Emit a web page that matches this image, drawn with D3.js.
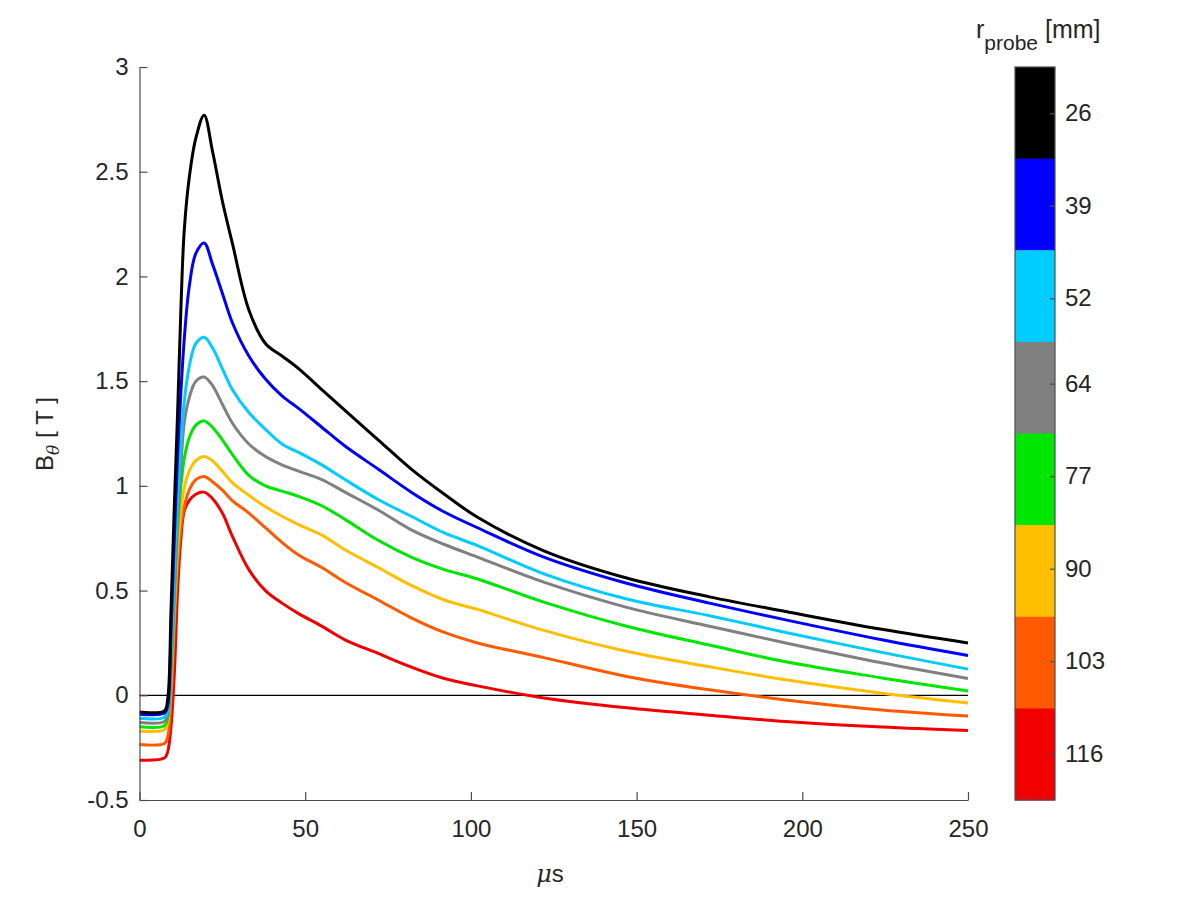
<!DOCTYPE html>
<html>
<head>
<meta charset="utf-8">
<script src="https://cdn.jsdelivr.net/npm/d3@7"></script>
<style>
body { margin: 0; background: #fff; }
text { font-family: "Liberation Sans", Arial, sans-serif; fill: #262626; }
</style>
</head>
<body>
<div id="chart"></div>
<script>
// time axis (microseconds) shared by every probe trace
var times = [0, 7.5, 8.5, 9.5, 10.5, 11.5, 12.5, 13.5, 15, 17, 19.5, 22, 25, 28, 33, 38, 43, 48, 55, 62, 72, 82, 92, 102, 122, 147, 172, 195, 224, 250];

// B_theta [T] per probe radius
var b26  = [-0.08, -0.075, -0.02, 0.4, 0.9, 1.35, 1.85, 2.22, 2.47, 2.66, 2.77, 2.6, 2.36, 2.16, 1.84, 1.68, 1.62, 1.56, 1.46, 1.36, 1.22, 1.08, 0.96, 0.85, 0.69, 0.56, 0.47, 0.40, 0.315, 0.25];
var b39  = [-0.09, -0.085, -0.05, 0.3, 0.75, 1.15, 1.45, 1.7, 1.95, 2.11, 2.16, 2.06, 1.92, 1.78, 1.62, 1.51, 1.43, 1.37, 1.28, 1.19, 1.08, 0.97, 0.875, 0.80, 0.66, 0.535, 0.44, 0.36, 0.265, 0.19];
var b52  = [-0.11, -0.105, -0.07, 0.2, 0.6, 0.95, 1.2, 1.4, 1.57, 1.68, 1.71, 1.66, 1.56, 1.46, 1.35, 1.27, 1.20, 1.16, 1.10, 1.03, 0.935, 0.855, 0.775, 0.715, 0.58, 0.46, 0.38, 0.30, 0.205, 0.125];
var b64  = [-0.13, -0.125, -0.09, 0.15, 0.5, 0.85, 1.1, 1.3, 1.42, 1.5, 1.52, 1.48, 1.39, 1.3, 1.2, 1.14, 1.10, 1.07, 1.03, 0.97, 0.885, 0.79, 0.72, 0.66, 0.54, 0.42, 0.33, 0.25, 0.155, 0.08];
var b77  = [-0.15, -0.145, -0.11, 0.1, 0.45, 0.8, 1.0, 1.13, 1.23, 1.29, 1.31, 1.28, 1.22, 1.15, 1.05, 1.0, 0.975, 0.95, 0.905, 0.84, 0.74, 0.66, 0.60, 0.555, 0.445, 0.33, 0.24, 0.16, 0.083, 0.02];
var b90  = [-0.17, -0.165, -0.13, 0.05, 0.4, 0.7, 0.88, 0.99, 1.07, 1.12, 1.14, 1.12, 1.07, 1.015, 0.955, 0.90, 0.855, 0.815, 0.765, 0.695, 0.61, 0.525, 0.455, 0.41, 0.31, 0.21, 0.136, 0.074, 0.01, -0.037];
var b103 = [-0.235, -0.23, -0.2, -0.02, 0.33, 0.62, 0.8, 0.9, 0.98, 1.03, 1.045, 1.02, 0.98, 0.93, 0.87, 0.80, 0.73, 0.67, 0.61, 0.54, 0.455, 0.37, 0.30, 0.25, 0.18, 0.09, 0.026, -0.022, -0.07, -0.099];
var b116 = [-0.31, -0.30, -0.27, -0.15, 0.1, 0.5, 0.75, 0.88, 0.93, 0.96, 0.97, 0.94, 0.87, 0.76, 0.60, 0.50, 0.44, 0.39, 0.33, 0.265, 0.20, 0.135, 0.08, 0.045, -0.013, -0.06, -0.095, -0.125, -0.152, -0.168];

var radii = [26, 39, 52, 64, 77, 90, 103, 116];
var colors = ["#000000", "#0000ff", "#00ccff", "#808080", "#00e600", "#ffbf00", "#ff5a00", "#f20000"];
var xTicks = [0, 50, 100, 150, 200, 250];
var yTicks = [-0.5, 0, 0.5, 1, 1.5, 2, 2.5, 3];

var traces = [b26, b39, b52, b64, b77, b90, b103, b116];

function drawChart() {
    var width = 1200,
        height = 900,
        pLeft = 139.5, pRight = 968, pTop = 67, pBottom = 800;

    var svg = d3.select("#chart")
        .append("svg")
        .attr("width", width)
        .attr("height", height);

    svg.append("rect")
        .attr("width", width)
        .attr("height", height)
        .attr("fill", "#fff");

    var x = d3.scaleLinear().domain([0, 250]).range([pLeft, pRight]);
    var y = d3.scaleLinear().domain([-0.5, 3]).range([pBottom, pTop]);

    var line = d3.line()
        .x(function (d) { return x(d[0]); })
        .y(function (d) { return y(d[1]); })
        .curve(d3.curveCatmullRom.alpha(0.5));

    // zero reference line
    svg.append("line")
        .attr("x1", x(0)).attr("x2", x(250))
        .attr("y1", y(0)).attr("y2", y(0))
        .attr("stroke", "#000")
        .attr("stroke-width", 1.3);

    // traces, outermost probe first so black ends on top
    var order = d3.range(traces.length).reverse();
    svg.append("g")
        .attr("class", "linegroup")
        .selectAll("path")
        .data(order)
        .enter()
        .append("path")
        .attr("d", function (i) {
            return line(times.map(function (t, k) { return [t, traces[i][k]]; }));
        })
        .attr("fill", "none")
        .attr("stroke", function (i) { return colors[i]; })
        .attr("stroke-width", 3)
        .attr("stroke-linejoin", "round");

    // axes, MATLAB style: ticks inside, left + bottom only
    var xAxis = d3.axisBottom(x)
        .tickValues(xTicks)
        .tickSizeInner(-8)
        .tickSizeOuter(0)
        .tickPadding(20);
    var yAxis = d3.axisLeft(y)
        .tickValues(yTicks)
        .tickFormat(function (d) { return String(d); })
        .tickSizeInner(-8)
        .tickSizeOuter(0)
        .tickPadding(11);

    var gx = svg.append("g")
        .attr("class", "axis xaxis")
        .attr("transform", "translate(0," + pBottom + ")")
        .call(xAxis);
    var gy = svg.append("g")
        .attr("class", "axis yaxis")
        .attr("transform", "translate(" + pLeft + ",0)")
        .call(yAxis);

    [gx, gy].forEach(function (g) {
        g.select(".domain").attr("stroke", "#4d4d4d").attr("stroke-width", 1.2);
        g.selectAll(".tick line").attr("stroke", "#4d4d4d").attr("stroke-width", 1.2);
        g.selectAll(".tick text")
            .attr("font-size", 24)
            .attr("fill", "#262626")
            .style("font-family", "'Liberation Sans', Arial, sans-serif");
    });

    // axis labels
    svg.append("text")
        .attr("x", 550)
        .attr("y", 882)
        .attr("text-anchor", "middle")
        .attr("font-size", 24)
        .html('<tspan font-style="italic" font-family="DejaVu Serif">\u03bc</tspan>s');

    var ylab = svg.append("text")
        .attr("transform", "translate(53,434) rotate(-90)")
        .attr("text-anchor", "middle")
        .attr("font-size", 24);
    ylab.append("tspan").text("B");
    ylab.append("tspan").attr("dy", 6).attr("font-size", 17).attr("font-style", "italic")
        .attr("font-family", "DejaVu Serif").text("\u03b8");
    ylab.append("tspan").attr("dy", -6).text(" [ T ]");

    // colorbar
    var cbLeft = 1015, cbWidth = 40;
    var cb = d3.scaleLinear().domain([19.5, 122.5]).range([pTop, pBottom]);
    var band = d3.scaleBand().domain(radii).range([pTop, pBottom]).padding(0);

    svg.append("g")
        .selectAll("rect")
        .data(radii)
        .enter()
        .append("rect")
        .attr("x", cbLeft)
        .attr("y", function (d) { return band(d); })
        .attr("width", cbWidth)
        .attr("height", band.bandwidth() + 0.5)
        .attr("fill", function (d, i) { return colors[i]; });

    var cbAxis = d3.axisRight(cb)
        .tickValues(radii)
        .tickSizeInner(-5)
        .tickSizeOuter(0)
        .tickPadding(10);
    var gcb = svg.append("g")
        .attr("transform", "translate(" + (cbLeft + cbWidth) + ",0)")
        .call(cbAxis);
    gcb.select(".domain").remove();
    gcb.selectAll(".tick line").attr("stroke", "#4d4d4d").attr("stroke-width", 1.2);
    gcb.selectAll(".tick text")
        .attr("font-size", 24)
        .attr("fill", "#262626")
        .style("font-family", "'Liberation Sans', Arial, sans-serif");

    svg.append("rect")
        .attr("x", cbLeft)
        .attr("y", pTop)
        .attr("width", cbWidth)
        .attr("height", pBottom - pTop)
        .attr("fill", "none")
        .attr("stroke", "#4d4d4d")
        .attr("stroke-width", 1.2);

    var cbt = svg.append("text")
        .attr("x", 976)
        .attr("y", 38)
        .attr("font-size", 25);
    cbt.append("tspan").text("r");
    cbt.append("tspan").attr("dy", 12).attr("font-size", 21).text("probe");
    cbt.append("tspan").attr("dy", -12).text(" [mm]");
}

drawChart();
</script>
</body>
</html>
